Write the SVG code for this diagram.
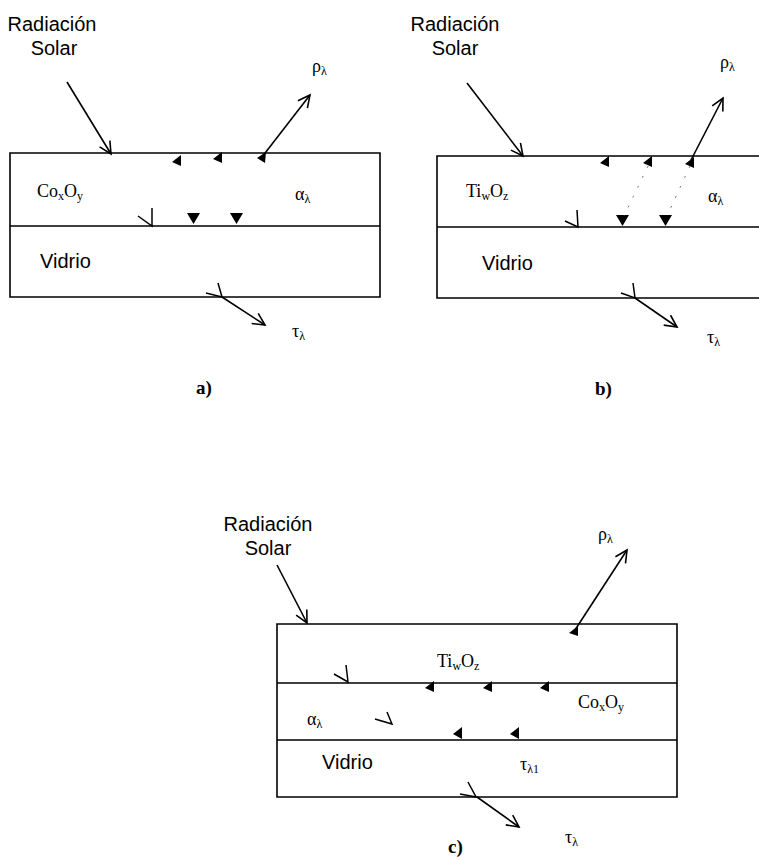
<svg xmlns="http://www.w3.org/2000/svg" width="759" height="860" viewBox="0 0 759 860">
<style>
.ln{stroke:#000;stroke-width:1.6;fill:none}
.ar{stroke:#000;stroke-width:1.6;fill:none;marker-end:url(#oa)}
.hk{stroke:#000;stroke-width:1.5;fill:none}
.tr{fill:#000;stroke:none}
.dt{stroke:#777;stroke-width:1;stroke-dasharray:2 9;fill:none}
.sans{font-family:"Liberation Sans",Arial,sans-serif;font-size:20px;fill:#000}
.ser{font-family:"Liberation Serif","Times New Roman",serif;font-size:18px;fill:#000}
.sub{font-size:12px}
.lbl{font-family:"Liberation Serif","Times New Roman",serif;font-size:19px;font-weight:bold;fill:#000}
</style>
<defs>
<marker id="oa" markerUnits="userSpaceOnUse" markerWidth="16" markerHeight="16" refX="13" refY="7" orient="auto">
<path d="M1,1 L13,7 L1,13" stroke="#000" stroke-width="1.6" fill="none"/>
</marker>
</defs>
<rect width="759" height="860" fill="#fff"/>

<g id="panel-a">
<path class="ln" d="M10,153 H380 V297 H10 Z M10,226 H380"/>
<text class="sans" x="52" y="31" text-anchor="middle">Radiación</text>
<text class="sans" x="54" y="55" text-anchor="middle">Solar</text>
<text class="ser" x="37" y="197">Co<tspan class="sub" dy="3">x</tspan><tspan dy="-3">O</tspan><tspan class="sub" dy="3">y</tspan></text>
<text class="ser" x="295" y="200">α<tspan class="sub" dy="3">λ</tspan></text>
<text class="sans" x="40" y="268">Vidrio</text>
<text class="ser" x="312" y="72">ρ<tspan class="sub" dy="3">λ</tspan></text>
<text class="ser" x="292" y="337">τ<tspan class="sub" dy="3">λ</tspan></text>
<text class="lbl" x="196" y="394">a)</text>
</g>

<g id="panel-b">
<path class="ln" d="M759,156 H437 V298 H759 M437,227 H759"/>
<text class="sans" x="455" y="31" text-anchor="middle">Radiación</text>
<text class="sans" x="455" y="55" text-anchor="middle">Solar</text>
<text class="ser" x="466" y="197">Ti<tspan class="sub" dy="3">w</tspan><tspan dy="-3">O</tspan><tspan class="sub" dy="3">z</tspan></text>
<text class="ser" x="708" y="202">α<tspan class="sub" dy="3">λ</tspan></text>
<text class="sans" x="482" y="270">Vidrio</text>
<text class="ser" x="720" y="68">ρ<tspan class="sub" dy="3">λ</tspan></text>
<text class="ser" x="707" y="343">τ<tspan class="sub" dy="3">λ</tspan></text>
<text class="lbl" x="595" y="395">b)</text>
</g>

<g id="panel-c">
<path class="ln" d="M277,624 H677 V797 H277 Z M277,683 H677 M277,740 H677"/>
<text class="sans" x="268" y="531" text-anchor="middle">Radiación</text>
<text class="sans" x="268" y="555" text-anchor="middle">Solar</text>
<text class="ser" x="437" y="667">Ti<tspan class="sub" dy="3">w</tspan><tspan dy="-3">O</tspan><tspan class="sub" dy="3">z</tspan></text>
<text class="ser" x="578" y="708">Co<tspan class="sub" dy="3">x</tspan><tspan dy="-3">O</tspan><tspan class="sub" dy="3">y</tspan></text>
<text class="ser" x="307" y="725">α<tspan class="sub" dy="3">λ</tspan></text>
<text class="sans" x="322" y="769">Vidrio</text>
<text class="ser" x="520" y="770">τ<tspan class="sub" dy="3">λ1</tspan></text>
<text class="ser" x="565" y="843">τ<tspan class="sub" dy="3">λ</tspan></text>
<text class="ser" x="598" y="540">ρ<tspan class="sub" dy="3">λ</tspan></text>
<text class="lbl" x="448" y="853">c)</text>
</g>

<g id="connectors">
<line class="ar" x1="67" y1="82" x2="111" y2="154"/>
<line class="ar" x1="262" y1="157" x2="310" y2="95"/>
<line class="ar" x1="222" y1="297" x2="265" y2="325"/>
<path class="hk" d="M152,208 L152,226 L138,216"/>
<path class="hk" d="M218,283 L222,297 L206,293"/>
<path class="tr" d="M172,162 L181,155 L181,166 Z M213,159 L222,152 L222,163 Z M257,158 L266,152 L265,163 Z"/>
<path class="tr" d="M187,213 L200,213 L193.5,224 Z M230,213 L243,213 L236.5,224 Z"/>
<line class="ar" x1="467" y1="83" x2="523" y2="156"/>
<line class="ar" x1="690" y1="162" x2="723" y2="98"/>
<line class="ar" x1="635" y1="298" x2="677" y2="327"/>
<path class="hk" d="M577,210 L578,227 L565,221"/>
<path class="hk" d="M633,283 L635,298 L621,293"/>
<path class="tr" d="M600,163 L609,156 L609,167 Z M643,163 L652,156 L652,167 Z M685,164 L694,157 L694,168 Z"/>
<path class="tr" d="M616,215 L629,215 L622.5,226 Z M659,215 L672,215 L665.5,226 Z"/>
<path class="dt" d="M648,166 L624,216 M690,166 L667,216"/>
<line class="ar" x1="277" y1="565" x2="307" y2="623"/>
<line class="ar" x1="575" y1="630" x2="627" y2="550"/>
<line class="ar" x1="477" y1="797" x2="519" y2="827"/>
<path class="hk" d="M346,665 L348,682 L334,674"/>
<path class="hk" d="M387,712 L392,724 L375,719"/>
<path class="hk" d="M468,782 L476,797 L460,794"/>
<path class="tr" d="M569,633 L578,626 L578,636 Z"/>
<path class="tr" d="M425,688 L434,681 L434,692 Z M483,688 L492,681 L492,692 Z M540,688 L549,681 L549,692 Z"/>
<path class="tr" d="M453,734 L462,727 L462,739 Z M510,734 L519,727 L519,739 Z"/>
</g>
</svg>
